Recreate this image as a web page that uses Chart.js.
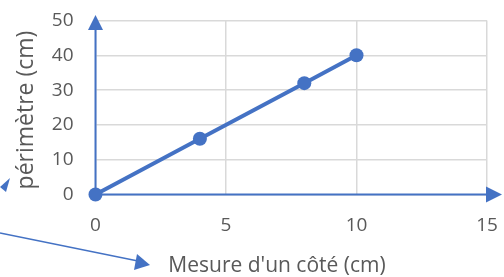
<!DOCTYPE html>
<html>
<head>
<meta charset="utf-8">
<script src="https://cdn.jsdelivr.net/npm/chart.js@4.4.1/dist/chart.umd.min.js"></script>
<style>
  html,body{margin:0;padding:0;background:#fff;}
  #wrap{width:504px;height:277px;position:relative;}
</style>
</head>
<body>
<div id="wrap"><canvas id="c" width="504" height="277"></canvas></div>
<script>
const xValues = [0, 4, 8, 10];
const yValues = [0, 16, 32, 40];
const xTicks = [0, 5, 10, 15];
const yTicks = [0, 10, 20, 30, 40, 50];
const xTitle = "Mesure d'un côté (cm)";
const yTitle = "périmètre (cm)";

const BLUE = '#4472C4';
const TEXT = '#595959';
const FONT = "'Open Sans', 'Liberation Sans', sans-serif";

function tri(ctx, p1, p2, p3){
  ctx.beginPath(); ctx.moveTo(p1[0],p1[1]); ctx.lineTo(p2[0],p2[1]); ctx.lineTo(p3[0],p3[1]); ctx.closePath(); ctx.fill();
}

const deco = {
  id: 'deco',
  beforeDatasetsDraw(chart){
    const {ctx, scales:{x, y}} = chart;
    const x0 = x.getPixelForValue(xTicks[0]);
    const y0 = y.getPixelForValue(yTicks[0]);
    const xEnd = x.getPixelForValue(xTicks[xTicks.length-1]);
    const yTop = y.getPixelForValue(yTicks[yTicks.length-1]);
    ctx.save();
    ctx.strokeStyle = BLUE; ctx.fillStyle = BLUE; ctx.lineWidth = 2;
    ctx.beginPath(); ctx.moveTo(x0, y0); ctx.lineTo(x0, yTop + 8); ctx.stroke();
    tri(ctx, [x0, yTop - 5.5], [x0 - 7.5, yTop + 9.5], [x0 + 7.5, yTop + 9.5]);
    ctx.beginPath(); ctx.moveTo(x0, y0); ctx.lineTo(xEnd, y0); ctx.stroke();
    tri(ctx, [xEnd + 15, y0], [xEnd - 1, y0 - 8], [xEnd - 1, y0 + 8]);
    ctx.restore();
  },
  afterDraw(chart){
    const {ctx} = chart;
    ctx.save();
    ctx.fillStyle = TEXT;
    ctx.font = "21px " + FONT;
    ctx.textAlign = 'center'; ctx.textBaseline = 'alphabetic';
    ctx.fillText(xTitle, 277, 272);
    ctx.font = "23px " + FONT;
    ctx.translate(33, 110);
    ctx.rotate(-Math.PI/2);
    ctx.fillText(yTitle, 0, 0);
    ctx.restore();
    // annotation arrows
    ctx.save();
    ctx.strokeStyle = BLUE; ctx.fillStyle = BLUE; ctx.lineWidth = 1.5;
    ctx.beginPath(); ctx.moveTo(0, 233); ctx.lineTo(138, 261); ctx.stroke();
    tri(ctx, [150, 265], [137, 254], [134, 270]);
    tri(ctx, [10, 178], [0, 187], [6, 192]);
    ctx.restore();
  }
};

function noPad(s){ s.paddingTop = 0; s.paddingBottom = 0; s.paddingLeft = 0; s.paddingRight = 0; }

new Chart(document.getElementById('c'), {
  type: 'scatter',
  data: {
    datasets: [{
      data: xValues.map((v, i) => ({x: v, y: yValues[i]})),
      showLine: true,
      clip: false,
      borderColor: BLUE,
      backgroundColor: BLUE,
      borderWidth: 4,
      pointRadius: 7,
      pointHoverRadius: 7,
      pointBorderWidth: 0
    }]
  },
  options: {
    responsive: false,
    animation: false,
    devicePixelRatio: 1,
    layout: {autoPadding: false, padding: {top: 20.5, right: 17, left: 0, bottom: 0}},
    plugins: {legend: {display: false}, tooltip: {enabled: false}},
    scales: {
      x: {
        type: 'linear', min: xTicks[0], max: xTicks[xTicks.length-1],
        afterBuildTicks(s){ s.ticks = xTicks.map(v => ({value: v})); },
        afterFit(s){ s.height = 82.5; noPad(s); },
        grid: {color: '#d9d9d9', lineWidth: 1.5, drawTicks: false},
        border: {display: false},
        ticks: {color: TEXT, font: {family: FONT, size: 19}, padding: 20, maxRotation: 0}
      },
      y: {
        type: 'linear', min: yTicks[0], max: yTicks[yTicks.length-1],
        afterBuildTicks(s){ s.ticks = yTicks.map(v => ({value: v})); },
        afterFit(s){ s.width = 95.5; noPad(s); },
        grid: {color: '#d9d9d9', lineWidth: 1.5, drawTicks: false},
        border: {display: false},
        ticks: {color: TEXT, font: {family: FONT, size: 19}, padding: 22}
      }
    }
  },
  plugins: [deco]
});
</script>
</body>
</html>
